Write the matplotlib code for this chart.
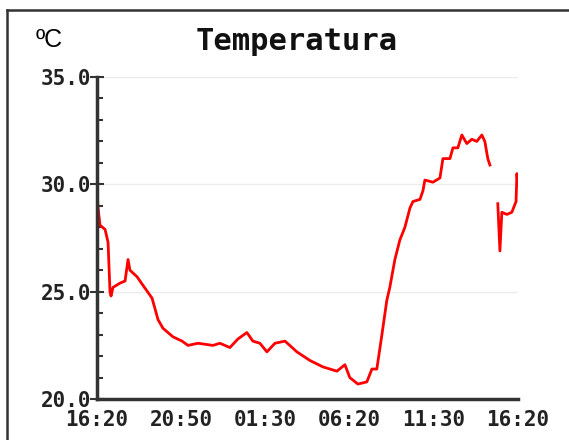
import numpy as np
import matplotlib
matplotlib.use("Agg")
import matplotlib.pyplot as plt
from matplotlib.lines import Line2D
from matplotlib.ticker import MultipleLocator

# hours since 16:20 and temperature (ºC); nan marks the gap in the log
hours = [0.0, 0.06, 0.17, 0.46, 0.63, 0.74, 0.8, 0.91, 1.31, 1.6, 1.77, 1.88, 2.28, 2.62,
         3.14, 3.31, 3.48, 3.76, 4.33, 4.85, 5.19, 5.76, 6.61, 7.01, 7.58, 8.04, 8.55,
         8.89, 9.29, 9.69, 10.15, 10.72, 11.4, 12.14, 12.88, 13.68, 14.14, 14.42, 14.88,
         15.39, 15.68, 15.96, 16.25, 16.53, 16.7, 16.99, 17.27, 17.56, 17.85, 18.02,
         18.42, 18.59, 18.7, 19.16, 19.56, 19.73, 20.13, 20.3, 20.58, 20.81, 21.09,
         21.38, 21.66, 21.95, 22.12, 22.29, 22.41, 22.6, 22.86, 22.98, 23.09, 23.38,
         23.66, 23.9, 23.95, 24.0]
temps = [29.7, 28.9, 28.1, 27.9, 27.3, 25.0, 24.8, 25.2, 25.4, 25.5, 26.5, 26.0, 25.7, 25.3,
         24.7, 24.2, 23.7, 23.3, 22.9, 22.7, 22.5, 22.6, 22.5, 22.6, 22.4, 22.8, 23.1,
         22.7, 22.6, 22.2, 22.6, 22.7, 22.2, 21.8, 21.5, 21.3, 21.6, 21.0, 20.7,
         20.8, 21.4, 21.4, 23.0, 24.6, 25.2, 26.5, 27.4, 28.0, 28.9, 29.2,
         29.3, 29.7, 30.2, 30.1, 30.3, 31.2, 31.2, 31.7, 31.7, 32.3, 31.9,
         32.1, 32.0, 32.3, 32.0, 31.2, 30.9, np.nan, 29.1, 26.9, 28.7, 28.6,
         28.7, 29.2, 30.5, 30.0]

tick_hours = [0, 4.8, 9.6, 14.4, 19.2, 24]
tick_labels = ["16:20", "20:50", "01:30", "06:20", "11:30", "16:20"]
y_ticks = [20.0, 25.0, 30.0, 35.0]

fig = plt.figure(figsize=(5.69, 4.4), dpi=100)
ax = fig.add_axes([0.1705, 0.093, 0.7395, 0.732])

ax.plot(hours, temps, color="red", linewidth=2)

ax.set_xlim(0, 24)
ax.set_ylim(20, 35)
ax.set_xticks(tick_hours)
ax.set_xticklabels(tick_labels)
ax.set_yticks(y_ticks)
ax.set_yticklabels(["%.1f" % v for v in y_ticks])
ax.yaxis.set_minor_locator(MultipleLocator(1.0))

for lab in ax.get_xticklabels() + ax.get_yticklabels():
    lab.set_family("DejaVu Sans Mono")
    lab.set_fontweight("bold")
    lab.set_fontsize(15)
    lab.set_color("#222222")

ax.tick_params(axis="x", length=0, pad=8)
ax.tick_params(axis="y", which="major", direction="inout", length=10, width=1.5,
               color="#333333", pad=-1)
ax.tick_params(axis="y", which="minor", direction="in", length=4, width=1.5,
               color="#333333")

ax.grid(axis="y", color="#ebebeb", linewidth=1)
ax.set_axisbelow(True)
for s in ["top", "right"]:
    ax.spines[s].set_visible(False)
for s in ["left", "bottom"]:
    ax.spines[s].set_linewidth(2.5)
    ax.spines[s].set_color("#333333")

fig.text(0.522, 0.905, "Temperatura", ha="center", va="center",
         family="DejaVu Sans Mono", fontweight="bold", fontsize=22, color="#111111")
fig.text(0.062, 0.91, "ºC", ha="left", va="center", fontsize=18,
         family="Liberation Sans", color="black")

# frame lines of the screenshot
fig.add_artist(Line2D([0.012, 1.0], [0.977, 0.977], color="#333333", linewidth=1.8,
                      transform=fig.transFigure))
fig.add_artist(Line2D([0.012, 0.012], [0.0, 0.977], color="#333333", linewidth=1.8,
                      transform=fig.transFigure))

fig.savefig("out.png", dpi=100)
